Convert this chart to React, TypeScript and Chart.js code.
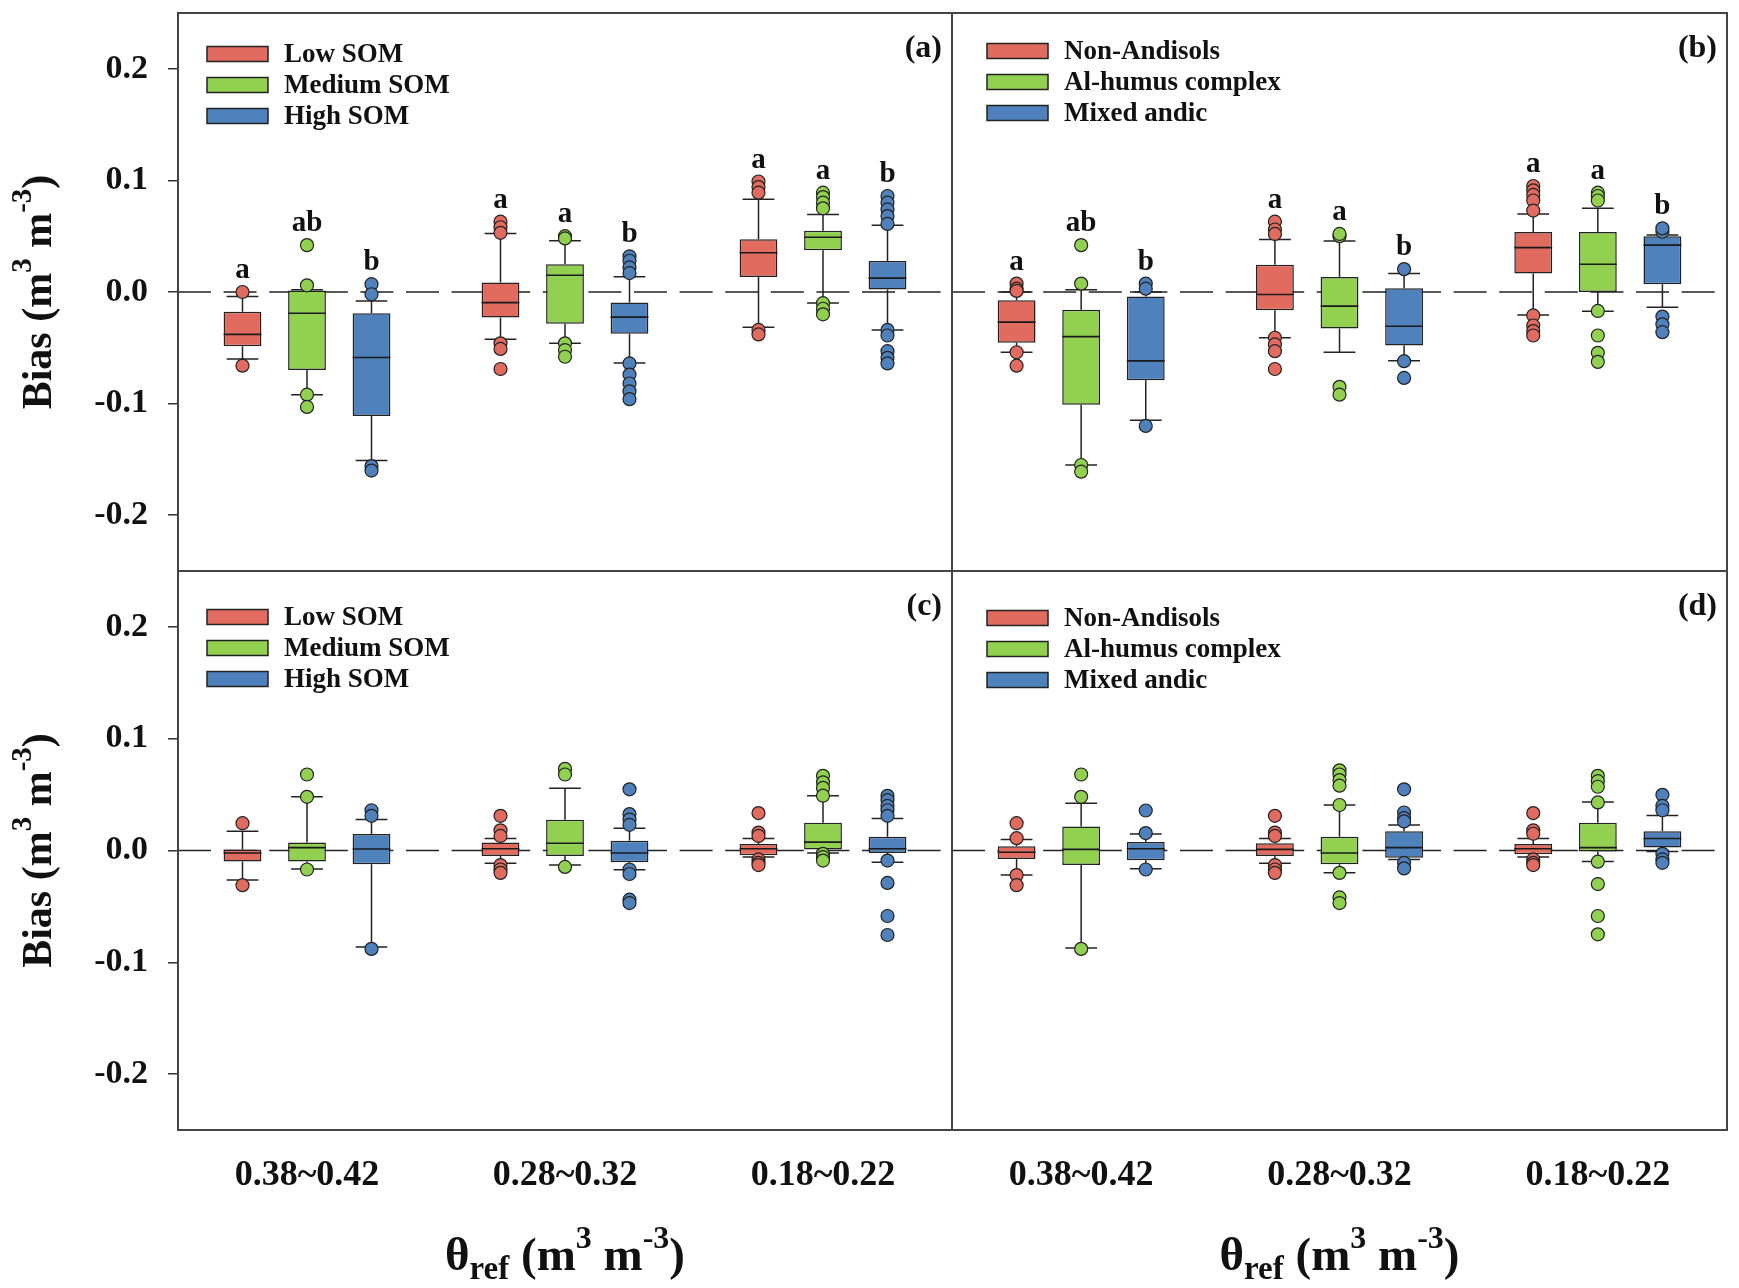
import React, { useEffect, useRef } from "react";
import { Chart, registerables } from "chart.js";

Chart.register(...registerables);

// ---------------- data ----------------
const CATEGORIES = ["0.38~0.42", "0.28~0.32", "0.18~0.22"];
const Y_TICKS = [-0.2, -0.1, 0.0, 0.1, 0.2];
const Y_MIN = -0.25;
const Y_MAX = 0.25;
const SOM_NAMES = ["Low SOM", "Medium SOM", "High SOM"];
const ANDIC_NAMES = ["Non-Andisols", "Al-humus complex", "Mixed andic"];
const SERIES_COLORS = ["#E06B5E", "#92D050", "#4F81BD"];

// box statistics per category: [lower whisker, Q1, median, Q3, upper whisker]
// panel (a)
const A_LOW_BOX = [[-0.060, -0.0486, -0.038, -0.0176, -0.004], [-0.0424, -0.0228, -0.0095, 0.0085, 0.0525], [-0.0316, 0.0134, 0.0352, 0.0473, 0.083]];
const A_MED_BOX = [[-0.092, -0.070, -0.019, 0.0013, 0.002], [-0.046, -0.0284, 0.015, 0.0248, 0.046], [-0.0098, 0.0375, 0.049, 0.0548, 0.0695]];
const A_HIGH_BOX = [[-0.151, -0.111, -0.0587, -0.019, -0.008], [-0.0636, -0.0375, -0.0225, -0.0095, 0.0137], [-0.034, 0.0023, 0.0124, 0.0277, 0.0597]];
const A_LOW_OUT = [[0.000, -0.066], [0.063, 0.058, 0.053, -0.046, -0.051, -0.069], [0.099, 0.094, 0.089, -0.034, -0.038]];
const A_MED_OUT = [[0.006, 0.042, -0.092, -0.103], [0.050, 0.048, -0.046, -0.052, -0.058], [0.089, 0.085, 0.080, 0.075, -0.010, -0.015, -0.020]];
const A_HIGH_OUT = [[0.007, -0.002, -0.156, -0.160], [0.032, 0.028, 0.022, 0.017, -0.064, -0.074, -0.082, -0.089, -0.096], [0.086, 0.080, 0.074, 0.068, 0.061, -0.034, -0.039, -0.053, -0.059, -0.064]];
const A_LETTERS = [["a", "a", "a"], ["ab", "a", "a"], ["b", "b", "b"]];

// panel (b)
const B_NON_BOX = [[-0.054, -0.0455, -0.027, -0.0075, 0.000], [-0.041, -0.0163, -0.0023, 0.0245, 0.047], [-0.0206, 0.0166, 0.0398, 0.0538, 0.070]];
const B_AL_BOX = [[-0.155, -0.101, -0.040, -0.016, 0.002], [-0.054, -0.0326, -0.0127, 0.0134, 0.0457], [-0.0173, 0.000, 0.0248, 0.0538, 0.075]];
const B_MIX_BOX = [[-0.115, -0.079, -0.0617, -0.004, 0.000], [-0.0617, -0.048, -0.0307, 0.0033, 0.0166], [-0.0137, 0.007, 0.042, 0.050, 0.051]];
const B_NON_OUT = [[0.0075, 0.003, 0.001, -0.054, -0.066], [0.063, 0.056, 0.052, -0.041, -0.047, -0.053, -0.069], [0.095, 0.091, 0.087, 0.082, 0.073, -0.021, -0.030, -0.035, -0.039]];
const B_AL_OUT = [[0.0075, 0.042, -0.155, -0.161], [0.050, 0.052, -0.085, -0.092], [0.089, 0.086, 0.082, -0.017, -0.039, -0.0545, -0.0626]];
const B_MIX_OUT = [[0.0075, 0.003, -0.120], [0.0205, -0.062, -0.077], [0.054, 0.057, -0.022, -0.029, -0.036]];
const B_LETTERS = [["a", "a", "a"], ["ab", "a", "a"], ["b", "b", "b"]];

// panel (c)
const C_LOW_BOX = [[-0.0264, -0.0098, -0.0023, 0.001, 0.0173], [-0.0114, -0.0049, 0.0016, 0.0072, 0.0107], [-0.0059, -0.0042, 0.0016, 0.0059, 0.0107]];
const C_MED_BOX = [[-0.0166, -0.0098, 0.0026, 0.0072, 0.048], [-0.013, -0.0049, 0.0065, 0.0274, 0.0557], [-0.0023, 0.001, 0.0075, 0.0248, 0.0489]];
const C_HIGH_BOX = [[-0.0863, -0.0124, 0.0013, 0.0147, 0.0277], [-0.0173, -0.0104, -0.0023, 0.0088, 0.020], [-0.0104, -0.0023, 0.0016, 0.0124, 0.0287]];
const C_LOW_OUT = [[0.0244, -0.031], [0.031, 0.018, 0.013, -0.013, -0.017, -0.020], [0.0335, 0.016, 0.013, -0.008, -0.011, -0.013]];
const C_MED_OUT = [[0.048, 0.068, -0.017], [0.073, 0.068, -0.0147], [0.0668, 0.061, 0.056, 0.049, -0.003, -0.006, -0.009]];
const C_HIGH_OUT = [[0.036, 0.031, -0.088], [0.0547, 0.0326, 0.0277, 0.023, -0.017, -0.021, -0.044, -0.047], [0.0489, 0.045, 0.040, 0.036, 0.031, -0.009, -0.029, -0.0586, -0.0756]];

// panel (d)
const D_NON_BOX = [[-0.022, -0.0075, -0.0016, 0.0039, 0.0098], [-0.0114, -0.0049, 0.001, 0.0065, 0.0107], [-0.0059, -0.0033, 0.0016, 0.0059, 0.0107]];
const D_AL_BOX = [[-0.0873, -0.013, 0.001, 0.0215, 0.0423], [-0.020, -0.0124, -0.0023, 0.0124, 0.0407], [-0.0098, -0.001, 0.0026, 0.0248, 0.0433]];
const D_MIX_BOX = [[-0.0163, -0.0088, 0.0016, 0.0075, 0.0147], [-0.0081, -0.0065, 0.0026, 0.0173, 0.0228], [-0.001, 0.0026, 0.0107, 0.0173, 0.0313]];
const D_NON_OUT = [[0.0244, 0.011, -0.022, -0.031], [0.031, 0.016, 0.013, -0.013, -0.017, -0.020], [0.0335, 0.018, 0.015, -0.008, -0.011, -0.013]];
const D_AL_OUT = [[0.048, 0.068, -0.088], [0.0717, 0.068, 0.063, 0.058, 0.0407, -0.020, -0.042, -0.047], [0.0668, 0.062, 0.057, 0.043, -0.010, -0.030, -0.0586, -0.075]];
const D_MIX_OUT = [[0.0156, 0.0358, -0.017], [0.0547, 0.034, 0.029, 0.026, -0.011, -0.016], [0.0498, 0.040, 0.036, -0.003, -0.008, -0.011]];

// ---------------- styling / layout ----------------
const FONT = '"Liberation Serif", "Times New Roman", Times, serif';
const INK = "#111111";

type PanelSpec = {
  tag: string;
  names: string[];
  boxes: number[][][];
  outs: number[][][];
  letters: string[][] | null;
  left: boolean;
  bottom: boolean;
  canvas: { x: number; y: number; w: number; h: number };
  padding: { top: number; right: number; bottom: number; left: number };
  legendTop: number;
  legendLeft: number;
};

const PANELS: PanelSpec[] = [
  {
    tag: "(a)", names: SOM_NAMES, boxes: [A_LOW_BOX, A_MED_BOX, A_HIGH_BOX], outs: [A_LOW_OUT, A_MED_OUT, A_HIGH_OUT],
    letters: A_LETTERS, left: true, bottom: false,
    canvas: { x: 0, y: 0, w: 962, h: 581 }, padding: { top: 13, right: 10, bottom: 10, left: 0 },
    legendTop: 41, legendLeft: 29,
  },
  {
    tag: "(b)", names: ANDIC_NAMES, boxes: [B_NON_BOX, B_AL_BOX, B_MIX_BOX], outs: [B_NON_OUT, B_AL_OUT, B_MIX_OUT],
    letters: B_LETTERS, left: false, bottom: false,
    canvas: { x: 942, y: 0, w: 797, h: 581 }, padding: { top: 13, right: 12, bottom: 10, left: 10 },
    legendTop: 38, legendLeft: 35,
  },
  {
    tag: "(c)", names: SOM_NAMES, boxes: [C_LOW_BOX, C_MED_BOX, C_HIGH_BOX], outs: [C_LOW_OUT, C_MED_OUT, C_HIGH_OUT],
    letters: null, left: true, bottom: true,
    canvas: { x: 0, y: 561, w: 962, h: 727 }, padding: { top: 10, right: 10, bottom: 0, left: 0 },
    legendTop: 46, legendLeft: 29,
  },
  {
    tag: "(d)", names: ANDIC_NAMES, boxes: [D_NON_BOX, D_AL_BOX, D_MIX_BOX], outs: [D_NON_OUT, D_AL_OUT, D_MIX_OUT],
    letters: null, left: false, bottom: true,
    canvas: { x: 942, y: 561, w: 797, h: 727 }, padding: { top: 10, right: 12, bottom: 0, left: 10 },
    legendTop: 47, legendLeft: 35,
  },
];

type Seg = { text: string; size: number; dy: number };

function drawRich(ctx: CanvasRenderingContext2D, segs: Seg[], cx: number, baseline: number) {
  let total = 0;
  const widths: number[] = [];
  for (const s of segs) {
    ctx.font = `bold ${s.size}px ${FONT}`;
    const w = ctx.measureText(s.text).width;
    widths.push(w);
    total += w;
  }
  let x = cx - total / 2;
  ctx.textAlign = "left";
  ctx.textBaseline = "alphabetic";
  segs.forEach((s, i) => {
    ctx.font = `bold ${s.size}px ${FONT}`;
    ctx.fillText(s.text, x, baseline + s.dy);
    x += widths[i];
  });
}

const Y_TITLE: Seg[] = [
  { text: "Bias (m", size: 42, dy: 0 },
  { text: "3", size: 29, dy: -20 },
  { text: " m", size: 42, dy: 0 },
  { text: "-3", size: 29, dy: -20 },
  { text: ")", size: 42, dy: 0 },
];
const X_TITLE: Seg[] = [
  { text: "\u03B8", size: 47, dy: 0 },
  { text: "ref", size: 33, dy: 9 },
  { text: " (m", size: 47, dy: 0 },
  { text: "3", size: 32, dy: -22 },
  { text: " m", size: 47, dy: 0 },
  { text: "-3", size: 32, dy: -22 },
  { text: ")", size: 47, dy: 0 },
];

function makePlugin(spec: PanelSpec) {
  return {
    id: "boxplotPanel",
    beforeDatasetsDraw(chart: any) {
      const { ctx, chartArea: ca, scales } = chart;
      const y0 = scales.y.getPixelForValue(0);
      ctx.save();
      ctx.beginPath();
      ctx.rect(ca.left, ca.top, ca.right - ca.left, ca.bottom - ca.top);
      ctx.clip();
      ctx.setLineDash([33, 12.6]);
      ctx.strokeStyle = "#222";
      ctx.lineWidth = 1.5;
      ctx.beginPath();
      ctx.moveTo(ca.left, y0);
      ctx.lineTo(ca.right, y0);
      ctx.stroke();
      ctx.restore();
    },
    afterDatasetsDraw(chart: any) {
      const { ctx, scales } = chart;
      const ys = scales.y;
      ctx.save();
      spec.boxes.forEach((series, si) => {
        const meta = chart.getDatasetMeta(si);
        series.forEach((b, ci) => {
          const el = meta.data[ci];
          const x = el.x;
          const w = el.width;
          const [lo, q1, med, q3, hi] = b;
          const pLo = ys.getPixelForValue(lo);
          const pQ1 = ys.getPixelForValue(q1);
          const pMed = ys.getPixelForValue(med);
          const pQ3 = ys.getPixelForValue(q3);
          const pHi = ys.getPixelForValue(hi);
          const cap = w * 0.84;
          ctx.strokeStyle = "#222";
          ctx.lineWidth = 1.5;
          ctx.beginPath();
          ctx.moveTo(x, pQ3); ctx.lineTo(x, pHi);
          ctx.moveTo(x, pQ1); ctx.lineTo(x, pLo);
          ctx.moveTo(x - cap / 2, pHi); ctx.lineTo(x + cap / 2, pHi);
          ctx.moveTo(x - cap / 2, pLo); ctx.lineTo(x + cap / 2, pLo);
          ctx.stroke();
          // median
          ctx.strokeStyle = "#1a1a1a";
          ctx.lineWidth = 1.6;
          ctx.beginPath();
          ctx.moveTo(x - w / 2, pMed); ctx.lineTo(x + w / 2, pMed);
          ctx.stroke();
          // outliers
          const outs = spec.outs[si][ci];
          ctx.fillStyle = SERIES_COLORS[si];
          ctx.strokeStyle = "#222";
          ctx.lineWidth = 1.2;
          for (const v of outs) {
            const py = ys.getPixelForValue(v);
            ctx.beginPath();
            ctx.arc(x, py, 6.5, 0, Math.PI * 2);
            ctx.fill();
            ctx.stroke();
          }
          // significance letters
          if (spec.letters) {
            const top = Math.max(hi, ...outs);
            const pt = ys.getPixelForValue(top);
            ctx.fillStyle = INK;
            ctx.font = `bold 29px ${FONT}`;
            ctx.textAlign = "center";
            ctx.textBaseline = "alphabetic";
            ctx.fillText(spec.letters[si][ci], x, pt - 14);
          }
        });
      });
      ctx.restore();
    },
    afterDraw(chart: any) {
      const { ctx, chartArea: ca } = chart;
      ctx.save();
      // panel frame
      ctx.strokeStyle = "#444";
      ctx.lineWidth = 2;
      ctx.strokeRect(ca.left, ca.top, ca.right - ca.left, ca.bottom - ca.top);
      // legend
      spec.names.forEach((name, i) => {
        const cy = ca.top + spec.legendTop + i * 31;
        const bx = ca.left + spec.legendLeft;
        ctx.fillStyle = SERIES_COLORS[i];
        ctx.fillRect(bx, cy - 7.5, 61, 15);
        ctx.strokeStyle = "#222";
        ctx.lineWidth = 1.5;
        ctx.strokeRect(bx, cy - 7.5, 61, 15);
        ctx.fillStyle = INK;
        ctx.font = `bold 27px ${FONT}`;
        ctx.textAlign = "left";
        ctx.textBaseline = "middle";
        ctx.fillText(name, bx + 61 + 16, cy + 1);
      });
      // panel tag
      ctx.fillStyle = INK;
      ctx.font = `bold 32px ${FONT}`;
      ctx.textAlign = "right";
      ctx.textBaseline = "middle";
      ctx.fillText(spec.tag, ca.right - 10, ca.top + 36);
      // y title
      if (spec.left) {
        ctx.save();
        ctx.translate(ca.left - 139, (ca.top + ca.bottom) / 2);
        ctx.rotate(-Math.PI / 2);
        drawRich(ctx, Y_TITLE, 0, 12);
        ctx.restore();
      }
      // x title
      if (spec.bottom) {
        ctx.fillStyle = INK;
        drawRich(ctx, X_TITLE, (ca.left + ca.right) / 2, ca.bottom + 140);
      }
      ctx.restore();
    },
  };
}

function Panel({ spec }: { spec: PanelSpec }) {
  const ref = useRef<HTMLCanvasElement | null>(null);
  useEffect(() => {
    if (!ref.current) return;
    const chart = new Chart(ref.current, {
      type: "bar",
      data: {
        labels: CATEGORIES,
        datasets: spec.boxes.map((series, i) => ({
          label: spec.names[i],
          data: series.map((b) => [b[1], b[3]]),
          backgroundColor: SERIES_COLORS[i],
          borderColor: "#222",
          borderWidth: 1.5,
          borderSkipped: false,
        })),
      } as any,
      options: {
        animation: false,
        responsive: false,
        maintainAspectRatio: false,
        layout: { padding: spec.padding },
        datasets: { bar: { categoryPercentage: 0.75, barPercentage: 0.586 } },
        plugins: { legend: { display: false }, tooltip: { enabled: false }, title: { display: false } },
        scales: {
          x: {
            display: spec.bottom,
            grid: { display: false, drawTicks: false },
            border: { display: false },
            ticks: {
              font: { family: FONT, size: 36, weight: "bold" },
              color: INK,
              padding: 24,
              maxRotation: 0,
              autoSkip: false,
            },
            afterFit: (axis: any) => {
              axis.paddingLeft = 0;
              axis.paddingRight = 0;
              if (spec.bottom) axis.height = 158;
            },
          },
          y: {
            display: spec.left,
            min: Y_MIN,
            max: Y_MAX,
            afterBuildTicks: (axis: any) => { axis.ticks = Y_TICKS.map((v) => ({ value: v })); },
            grid: { drawOnChartArea: false, drawTicks: true, tickLength: 10, color: "#333", lineWidth: 1.5 },
            border: { display: false },
            ticks: {
              font: { family: FONT, size: 34, weight: "bold" },
              color: INK,
              padding: 20,
              callback: (v: any) => Number(v).toFixed(1),
            },
            afterFit: (axis: any) => {
              axis.paddingTop = 0;
              axis.paddingBottom = 0;
              if (spec.left) axis.width = 178;
            },
          },
        },
      } as any,
      plugins: [makePlugin(spec)],
    });
    return () => chart.destroy();
  }, [spec]);
  const c = spec.canvas;
  return (
    <canvas
      ref={ref}
      width={c.w}
      height={c.h}
      style={{ position: "absolute", left: c.x, top: c.y, width: c.w, height: c.h }}
    />
  );
}

export default function App() {
  return (
    <div style={{ position: "absolute", left: 0, top: 0, width: 1739, height: 1288, background: "#fff", overflow: "hidden" }}>
      {PANELS.map((p) => (
        <Panel key={p.tag} spec={p} />
      ))}
    </div>
  );
}
